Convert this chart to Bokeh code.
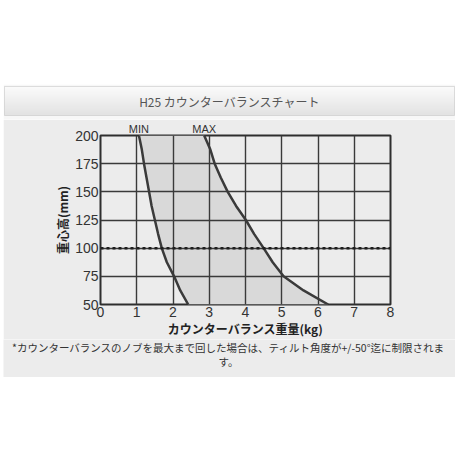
import numpy as np
from bokeh.plotting import figure
from bokeh.models import Range1d, FixedTicker, Span, Spacer, LinearAxis
from bokeh.layouts import column, row
from bokeh.core.properties import value
from bokeh.embed import file_html
from bokeh.resources import INLINE

TITLE = "H25 カウンターバランスチャート"
X_LABEL = "カウンターバランス重量(kg)"
Y_LABEL = "重心高(mm)"
FOOTNOTE_1 = "*カウンターバランスのノブを最大まで回した場合は、ティルト角度が+/-50°迄に制限されま"
FOOTNOTE_2 = "す。"
X_TICKS = [0, 1, 2, 3, 4, 5, 6, 7, 8]
Y_TICKS = [50, 75, 100, 125, 150, 175, 200]
HEIGHT_MM = [50, 62.5, 75, 87.5, 100, 112.5, 125, 137.5, 150, 162.5, 175, 187.5, 200]
MIN_KG = [2.42, 2.20, 2.03, 1.83, 1.69, 1.59, 1.50, 1.41, 1.34, 1.27, 1.20, 1.14, 1.06]
MAX_KG = [6.28, 5.60, 5.05, 4.75, 4.50, 4.24, 4.01, 3.74, 3.51, 3.32, 3.15, 3.03, 2.86]
REF_HEIGHT = 100
CURVE_NAMES = ["MIN", "MAX"]

PANEL = "#ececec"
CJK = "Noto Sans CJK JP"
LATIN = "Liberation Sans"
W = 452

# ---- title bar (gradient background) ----
t = figure(width=W, height=35, x_range=Range1d(0, 1), y_range=Range1d(0, 1),
           toolbar_location=None, output_backend="svg",
           x_axis_type=None, y_axis_type=None,
           min_border_left=1, min_border_right=1, min_border_top=2, min_border_bottom=4)
t.grid.visible = False
t.background_fill_color = "#efefef"
t.border_fill_color = "#f7f7f7"
t.outline_line_color = "#d2d2d2"
levels = np.linspace(0xe3, 0xfb, 29).astype(np.uint32)
grad = (0xFF << 24) | (levels << 16) | (levels << 8) | levels
t.image_rgba(image=[grad.reshape(-1, 1).astype(np.uint32)], x=0, y=0, dw=1, dh=1)
t.text(x=[0.5], y=[0.5], text=[TITLE], text_align="center", text_baseline="middle",
       text_font=value(CJK), text_font_size="12px", text_color="#555555")

# ---- chart ----
p = figure(width=W, height=220, x_range=Range1d(X_TICKS[0], X_TICKS[-1]),
           y_range=Range1d(Y_TICKS[0], Y_TICKS[-1]),
           toolbar_location=None, output_backend="svg",
           min_border_left=97, min_border_right=65, min_border_top=16, min_border_bottom=33)
p.background_fill_color = PANEL
p.border_fill_color = PANEL
p.outline_line_color = "#2e2e2e"
p.outline_line_width = 2

p.harea(x1=MIN_KG, x2=MAX_KG, y=HEIGHT_MM, fill_color="#d9d9d9", level="image")

bottom_axis = p.below[0]
left_axis = p.left[0]
bottom_axis.ticker = FixedTicker(ticks=X_TICKS)
left_axis.ticker = FixedTicker(ticks=Y_TICKS)
for g in (p.xgrid, p.ygrid):
    g.grid_line_color = "#3a3a3a"
    g.grid_line_width = 1.4

top_axis = LinearAxis(ticker=FixedTicker(ticks=[MIN_KG[-1], MAX_KG[-1]]),
                      major_label_overrides={MIN_KG[-1]: CURVE_NAMES[0], MAX_KG[-1]: CURVE_NAMES[1]})
p.add_layout(top_axis, "above")

for ax in (bottom_axis, left_axis, top_axis):
    ax.axis_line_color = None
    ax.major_tick_line_color = None
    ax.minor_tick_line_color = None
    ax.major_tick_in = 0
    ax.major_tick_out = 0
    ax.major_label_text_font = LATIN
    ax.major_label_text_font_size = "14px"
    ax.major_label_text_color = "#333333"
    ax.axis_label_text_font = CJK
    ax.axis_label_text_font_size = "12px"
    ax.axis_label_text_font_style = "bold"
    ax.axis_label_text_color = "#222222"
top_axis.major_label_text_font_size = "11px"
top_axis.major_label_standoff = 1
bottom_axis.axis_label = X_LABEL
left_axis.axis_label = Y_LABEL
bottom_axis.major_label_standoff = 2
bottom_axis.axis_label_standoff = 0
left_axis.major_label_standoff = 2
left_axis.axis_label_standoff = 1

p.line(MIN_KG, HEIGHT_MM, line_color="#3a3a3a", line_width=2.5)
p.line(MAX_KG, HEIGHT_MM, line_color="#3a3a3a", line_width=2.5)

p.add_layout(Span(location=REF_HEIGHT, dimension="width", line_color="#1e1e1e",
                  line_width=2.5, line_dash="3 3"))

# ---- footnote ----
f = figure(width=W, height=38, x_range=Range1d(0, W), y_range=Range1d(38, 0),
           toolbar_location=None, output_backend="svg",
           x_axis_type=None, y_axis_type=None, min_border=0)
f.grid.visible = False
f.background_fill_color = PANEL
f.border_fill_color = PANEL
f.outline_line_color = None
f.text(x=[W / 2 - 1, W / 2 - 1], y=[8, 22], text=[FOOTNOTE_1, FOOTNOTE_2], text_align="center",
       text_baseline="middle", text_font=value(CJK), text_font_size="10.5px",
       text_color="#333333")

layout = column(Spacer(width=W, height=84),
                row(Spacer(width=3, height=35), t),
                row(Spacer(width=3, height=220), p),
                row(Spacer(width=3, height=38), f), spacing=0)
open("out.html", "w").write(file_html(layout, INLINE))
